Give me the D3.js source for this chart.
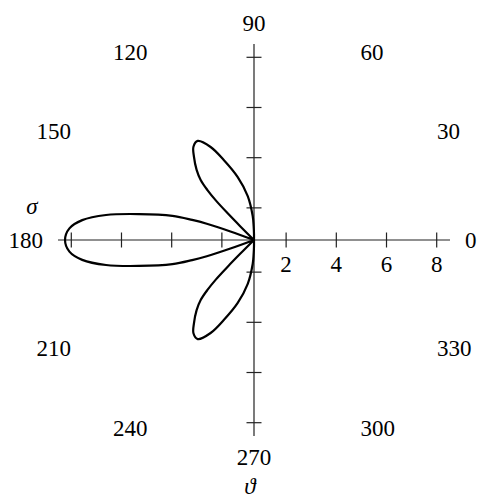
<!DOCTYPE html>
<html lang="en">
  <head>
    <meta charset="UTF-8" />
    <title>Polar cross section</title>
    <script src="https://d3js.org/d3.v7.min.js"></script>
    <style>
      body {
        margin: 0;
        background: #fff;
      }
      text {
        font-family: "Liberation Serif", "DejaVu Serif", serif;
        font-size: 23px;
        fill: #000;
      }
      .var {
        font-style: italic;
      }
    </style>
  </head>

  <body>
    <svg width="478" height="499"></svg>

    <script>
      // angle (degrees) and sigma
      const thetaDeg = [
        0, 30, 60, 89, 90, 91.5, 93.1, 98.1, 104.5, 110.7, 115, 119.6, 123,
        125.8, 129.3, 131.6, 133, 134, 134.6, 135, 136, 150, 159, 160, 161, 162,
        163.5, 167.3, 170.4, 173.4, 176.4, 180, 183.6, 186.6, 189.6, 192.7,
        196.5, 198, 199, 200, 201, 210, 224, 225, 225.4, 226, 227, 228.4, 230.7,
        234.2, 237, 240.4, 245, 249.3, 255.5, 261.9, 266.9, 268.5, 270, 271, 300,
        330, 360,
      ];
      const sigma = [
        0.72, 0.72, 0.72, 0.72, 0.96, 1.28, 1.68, 2.49, 3.31, 4.13, 4.81, 5.26,
        5.15, 4.81, 4.33, 3.92, 3.44, 2.9, 2.2, 1.5, 0.72, 0.72, 0.72, 1.72,
        2.71, 3.31, 4.11, 5.42, 6.7, 7.61, 8.09, 8.25, 8.09, 7.61, 6.7, 5.42,
        4.11, 3.31, 2.71, 1.72, 0.72, 0.72, 0.72, 1.5, 2.2, 2.9, 3.44, 3.92,
        4.33, 4.81, 5.15, 5.26, 4.81, 4.13, 3.31, 2.49, 1.68, 1.28, 0.96, 0.72,
        0.72, 0.72, 0.72,
      ];
      const radialTicks = [2, 4, 6, 8];
      const angleTicks = [0, 30, 60, 90, 120, 150, 180, 210, 240, 270, 300, 330];
      const rMin = 0.72,
        rMax = 8.53;

      const svg = d3.select("svg");
      const cx = 254,
        cy = 240;
      const g = svg.append("g").attr("transform", `translate(${cx},${cy})`);

      const r = d3.scaleLinear().domain([rMin, rMax]).range([0, 196]);
      const rad = (d) => (d * Math.PI) / 180;

      // axes
      const axisLen = r(rMax);
      g.append("line")
        .attr("x1", -axisLen)
        .attr("x2", axisLen)
        .attr("stroke", "#222")
        .attr("stroke-width", 1.2);
      g.append("line")
        .attr("y1", -axisLen)
        .attr("y2", axisLen)
        .attr("stroke", "#222")
        .attr("stroke-width", 1.2);

      // ticks on both halves of both axes
      const tickPos = radialTicks.flatMap((t) => [r(t), -r(t)]);
      g.selectAll(".xtick")
        .data(tickPos)
        .enter()
        .append("line")
        .attr("x1", (d) => d)
        .attr("x2", (d) => d)
        .attr("y1", -7.5)
        .attr("y2", 7.5)
        .attr("stroke", "#222")
        .attr("stroke-width", 1.2);
      g.selectAll(".ytick")
        .data(tickPos)
        .enter()
        .append("line")
        .attr("y1", (d) => d)
        .attr("y2", (d) => d)
        .attr("x1", -7.5)
        .attr("x2", 7.5)
        .attr("stroke", "#222")
        .attr("stroke-width", 1.2);

      g.selectAll(".rlabel")
        .data(radialTicks)
        .enter()
        .append("text")
        .attr("x", (d) => r(d))
        .attr("y", 31.5)
        .attr("text-anchor", "middle")
        .text((d) => d);

      // angle labels around the plot
      const R0 = 209;
      g.selectAll(".alabel")
        .data(angleTicks)
        .enter()
        .append("text")
        .attr("text-anchor", (d) => {
          const c = Math.cos(rad(d));
          return Math.abs(c) < 0.01 ? "middle" : c > 0 ? "start" : "end";
        })
        .attr("x", (d) => {
          const c = Math.cos(rad(d));
          const pad = Math.abs(c) < 0.01 ? 0 : c > 0 ? 2 : -2;
          return R0 * c + pad;
        })
        .attr("y", (d) => -R0 * Math.sin(rad(d)) - 8 * Math.sin(rad(d)) + 7.6)
        .text((d) => d);

      g.append("text")
        .attr("class", "var")
        .attr("x", -222)
        .attr("y", -26)
        .attr("text-anchor", "middle")
        .text("σ");
      g.append("text")
        .attr("class", "var")
        .attr("x", -4)
        .attr("y", 254)
        .attr("text-anchor", "middle")
        .text("ϑ");

      // the curve
      const pts = thetaDeg.map((t, i) => [t, sigma[i]]);
      const line = d3
        .lineRadial()
        .angle((d) => Math.PI / 2 - rad(d[0]))
        .radius((d) => r(d[1]))
        .curve(d3.curveCatmullRom.alpha(0.5));

      g.append("path")
        .attr("d", line(pts))
        .attr("fill", "none")
        .attr("stroke", "#000")
        .attr("stroke-width", 2.2)
        .attr("stroke-linejoin", "round");
    </script>
  </body>
</html>
